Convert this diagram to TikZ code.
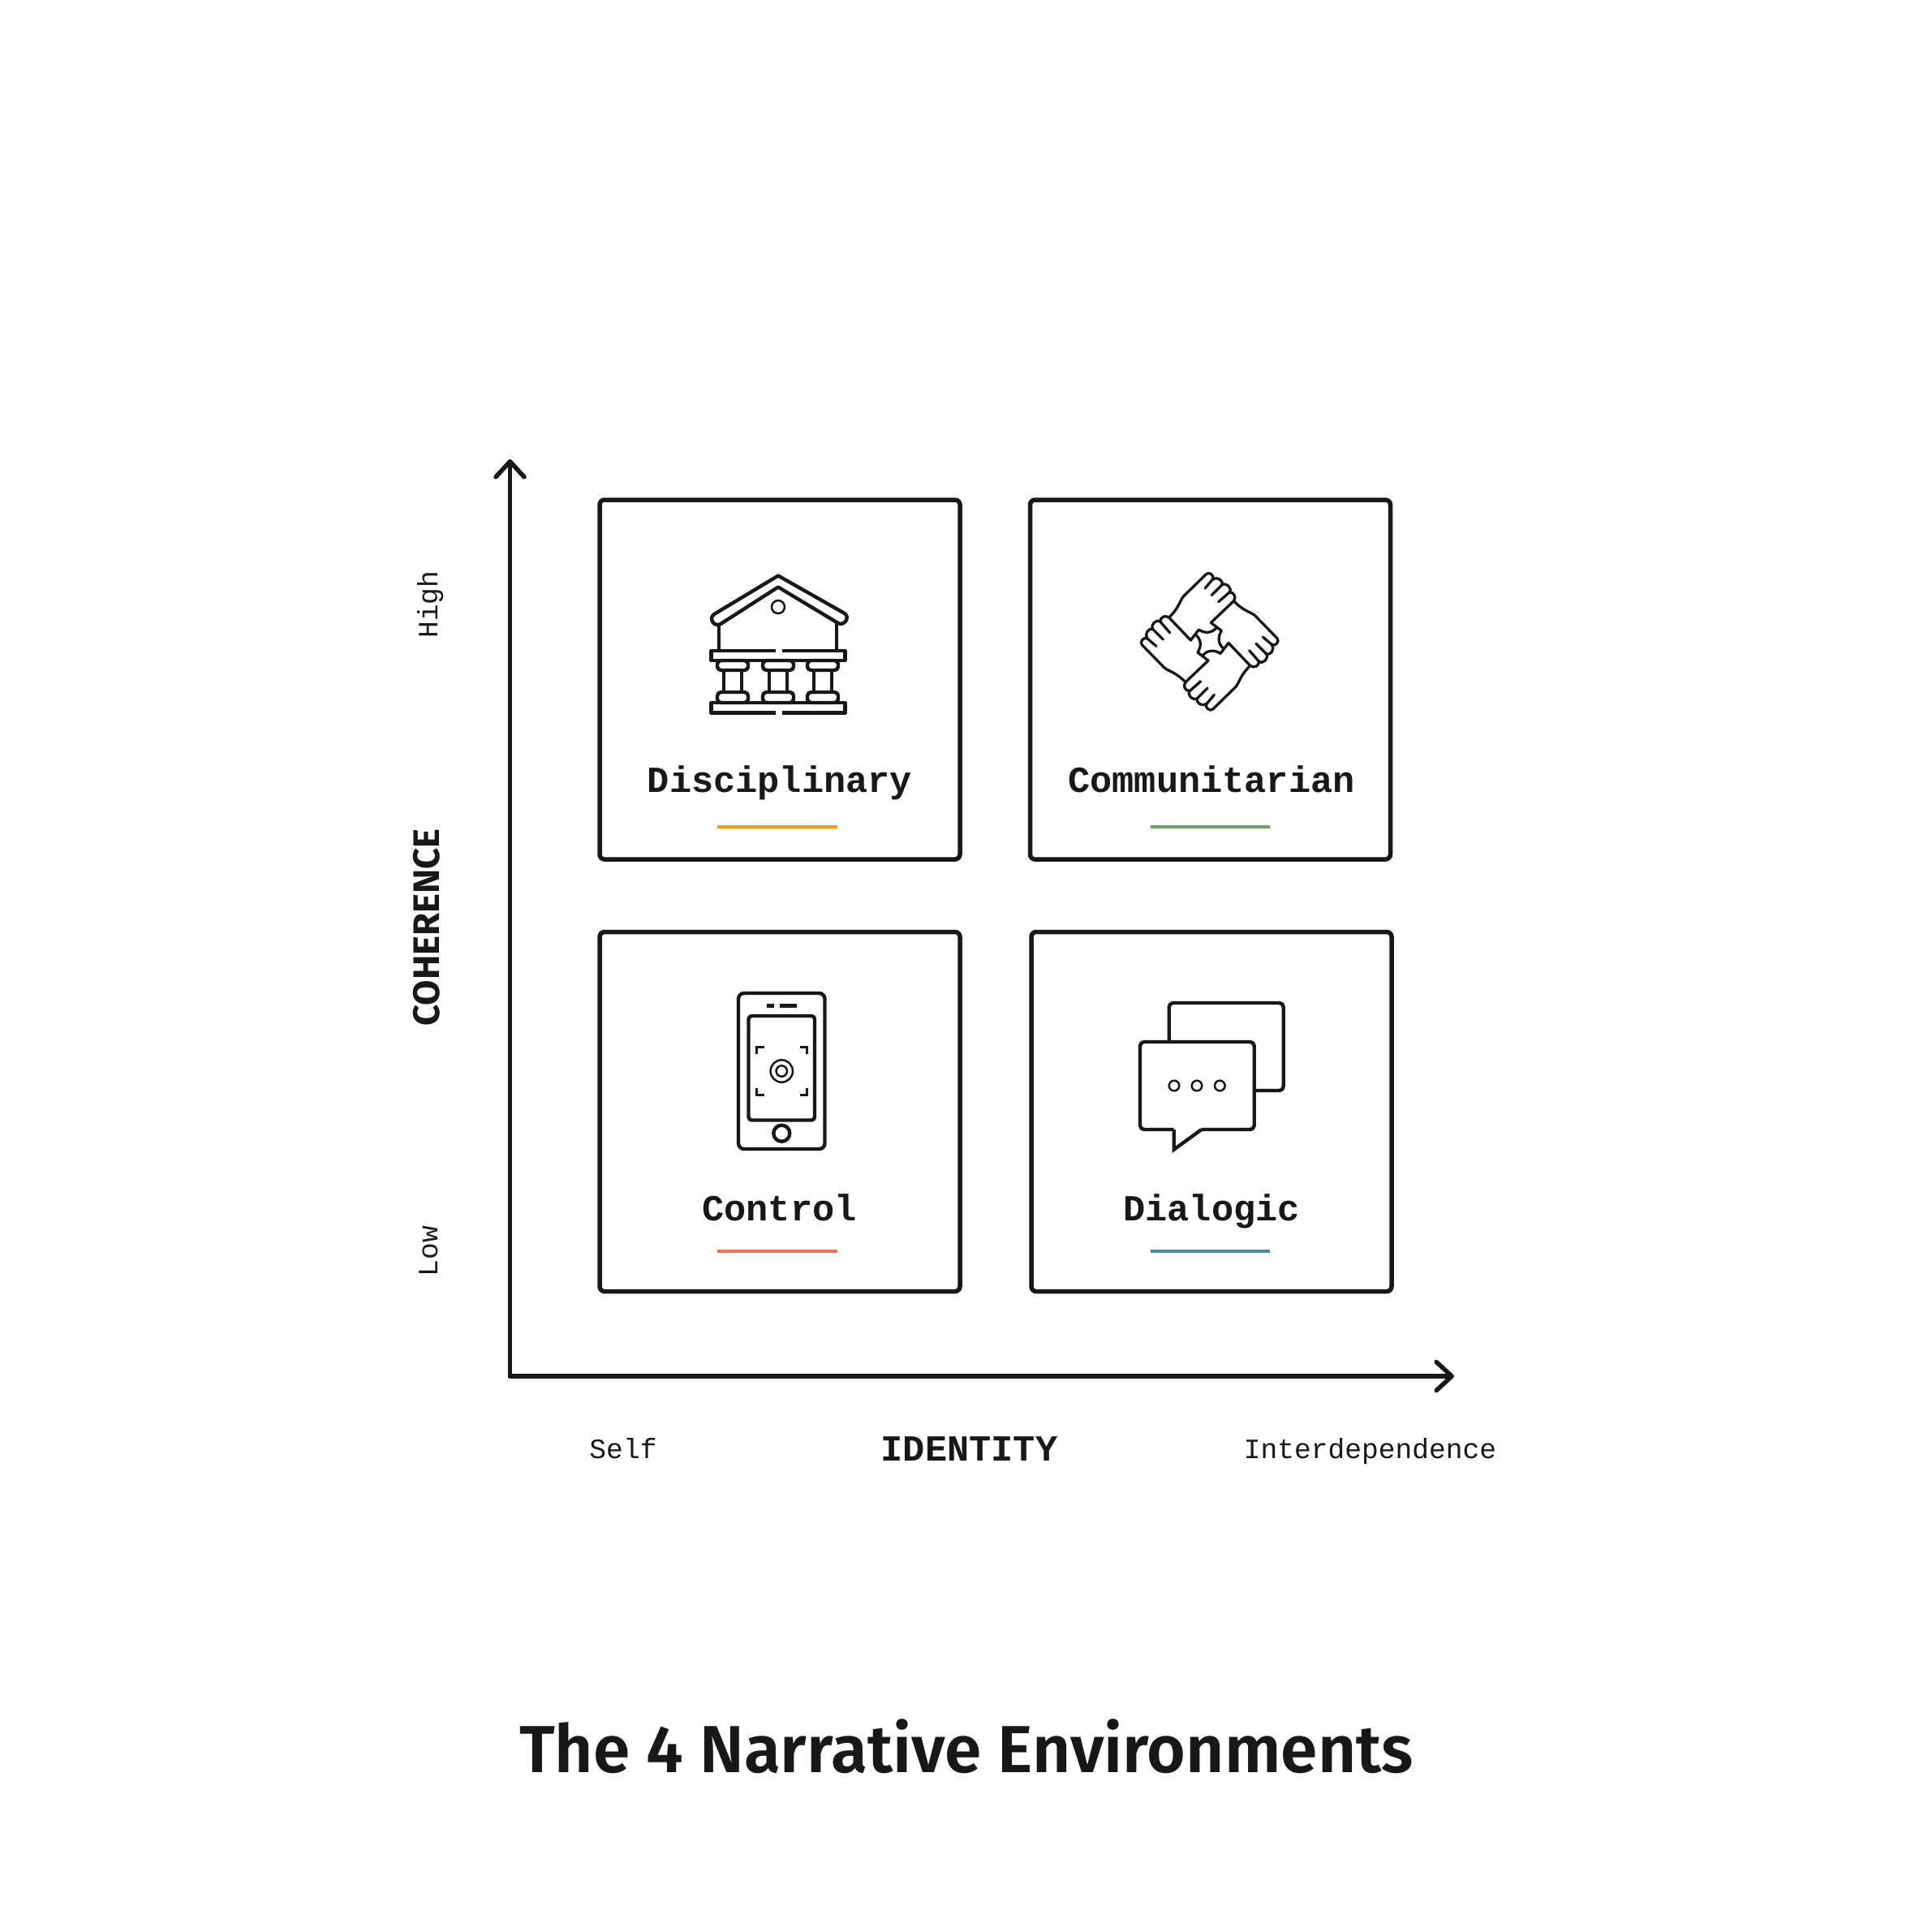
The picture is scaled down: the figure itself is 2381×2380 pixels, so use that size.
\documentclass[tikz,border=0pt]{standalone}
\usepackage{fontspec}
\usetikzlibrary{arrows.meta}
\setmainfont{Liberation Mono}
\newfontfamily\titlefont{Fira Sans SemiBold}
\newfontfamily\axisfont{Fira Sans}[BoldFont={Fira Sans Bold}]
\definecolor{ink}{HTML}{1A1718}
\definecolor{cOrange}{HTML}{F39C0E}
\definecolor{cGreen}{HTML}{6FA45F}
\definecolor{cRed}{HTML}{F0714F}
\definecolor{cBlue}{HTML}{478BA9}
\tikzset{
  panel/.style={draw=ink,line width=5.5pt,rounded corners=6pt,minimum width=444pt,minimum height=443pt,inner sep=0pt,outer sep=0pt,anchor=north west},
  envlabel/.style={text=ink,font=\fontsize{45.3}{50}\selectfont\bfseries,inner sep=0pt,anchor=base},
  axislabel/.style={text=ink,font=\fontsize{45.3}{50}\selectfont\bfseries,inner sep=0pt,anchor=base},
  tick/.style={text=ink,font=\fontsize{34.6}{40}\selectfont,inner sep=0pt,anchor=base},
  rule/.style={line width=4pt},
  axisline/.style={draw=ink,line width=5.5pt,line cap=round,line join=round,-{Straight Barb[length=19pt,width=35pt,line cap=round,line join=round]}},
  icon/.style={draw=ink,line width=4.4pt,line join=round},
  iconthin/.style={draw=ink,line width=2.5pt},
  handline/.style={draw=ink,line width=3.3pt,line join=round,line cap=round},
}
\begin{document}
\begin{tikzpicture}[x=1pt,y=-1pt]
\useasboundingbox[fill=white] (0,0) rectangle (2381,2380);
% panels
\node[panel] (disc) at (739,616) {};
\node[panel] (comm) at (1269.5,616) {};
\node[panel] (ctrl) at (739,1148.5) {};
\node[panel] (dial) at (1271,1148.5) {};
% axes
\coordinate (org) at (628.5,1696);
\coordinate (ytip) at (628.5,566);
\coordinate (xtip) at (1792,1696);
\draw[axisline] (org) -- (ytip);
\draw[axisline] (org) -- (xtip);
% labels
\node[envlabel] (tdisc) at (961,976) {Disciplinary};
\node[envlabel] (tcomm) at (1493,976) {Communitarian};
\node[envlabel] (tctrl) at (960.5,1504) {Control};
\node[envlabel] (tdial) at (1493,1504) {Dialogic};
\draw[rule,cOrange] (884,1018.5) -- (1031.5,1018.5);
\draw[rule,cGreen] (1418,1018.5) -- (1565,1018.5);
\draw[rule,cRed] (884,1542) -- (1031.5,1542);
\draw[rule,cBlue] (1418,1542) -- (1565,1542);
\node[tick] (self) at (768,1797) {Self};
\node[tick] (inter) at (1688.5,1797) {Interdependence};
\node[axislabel] (ident) at (1194.5,1800) {IDENTITY};
\node[tick,rotate=90] (high) at (539,745) {High};
\node[tick,rotate=90] (low) at (539,1542) {Low};
\node[text=ink,font=\axisfont\fontsize{45.5}{52}\selectfont\bfseries,inner sep=0pt,anchor=base,rotate=90] (coh) at (541,1143) {COHERENCE};
\node[text=ink,font=\titlefont\fontsize{82}{90}\selectfont,inner sep=0pt,anchor=base] (title) at (1191,2184) {The 4 Narrative Environments};
% building icon
\begin{scope}[icon]
\draw (959,709.5) -- (880,757) .. controls (873,762) and (880,773.5) .. (888,769) -- (959,723.5) -- (1033,768) .. controls (1040,772) and (1048,761) .. (1041,756) -- cycle;
\draw (886,768) -- (886,801);
\draw (1031,768) -- (1031,801);
\draw (955.5,802) -- (876.5,802) -- (876.5,814) -- (1041.5,814) -- (1041.5,802) -- (963.5,802);
\draw (955.5,878.5) -- (876.5,878.5) -- (876.5,866) -- (1041.5,866) -- (1041.5,878.5) -- (964,878.5);
\foreach \c in {903,959,1014}{
  \draw[rounded corners=4.5pt] (\c-19,814) rectangle (\c+19,826);
  \draw[rounded corners=4.5pt] (\c-19,853) rectangle (\c+19,866);
  \draw (\c-11,826) -- (\c-11,853);
  \draw (\c+11,826) -- (\c+11,853);
}
\end{scope}
\draw[iconthin] (959,748) circle (8);
% hands icon
\foreach \a in {0,90,180,270}{
\begin{scope}[shift={(1490.7,790.7)},rotate=\a,x=.3333pt,y=-.3333pt]
\draw[handline]
 (-150,-89) .. controls (-112,-127) and (-112,-147) .. (-97,-167) -- (-12,-250)
 .. controls (-2,-260) and (20,-244) .. (11,-230)
 .. controls (26,-242) and (53,-227) .. (45,-209)
 .. controls (60,-222) and (86,-197) .. (73,-182)
 .. controls (90,-184) and (100,-164) .. (89,-150);
\draw[handline] (11,-230) -- (-17,-197);
\draw[handline] (45,-209) -- (8,-172);
\draw[handline] (73,-182) -- (33,-147);
\draw[handline] (-150,-89) -- (-70,-5) -- (-40,-44) .. controls (-18,-30) and (8,-30) .. (26,-52);
\end{scope}}
% phone icon
\begin{scope}[icon]
\draw[rounded corners=7pt] (910,1224) rectangle (1016.5,1416);
\draw[rounded corners=4pt] (922.5,1252) rectangle (1004,1380.5);
\draw (945,1239.3) -- (954,1239.3);
\draw (961,1239.3) -- (981.7,1239.3);
\draw (963.3,1396.7) circle (10);
\end{scope}
\begin{scope}[iconthin]
\draw (963.3,1320) circle (13.7);
\draw (963.3,1320) circle (6.7);
\draw (932.5,1299.3) -- (932.5,1290.7) -- (941.7,1290.7);
\draw (985.7,1290.7) -- (994.3,1290.7) -- (994.3,1299.3);
\draw (932.5,1340.7) -- (932.5,1349.3) -- (941.7,1349.3);
\draw (985.7,1349.3) -- (994.3,1349.3) -- (994.3,1340.7);
\end{scope}
% chat icon
\begin{scope}[icon]
\draw[rounded corners=5pt] (1440.7,1284) -- (1440.7,1236) -- (1581.7,1236) -- (1581.7,1344) -- (1545.7,1344);
\draw[rounded corners=5pt] (1446.7,1392) -- (1405,1392) -- (1405,1284) -- (1545.7,1284) -- (1545.7,1392) -- (1480.7,1392);
\draw[line join=miter] (1480.7,1392) -- (1446.7,1416.7) -- (1446.7,1392);
\end{scope}
\foreach \c in {1447,1475,1503.3}{\draw[iconthin] (\c,1338) circle (6.3);}
\end{tikzpicture}
\end{document}
